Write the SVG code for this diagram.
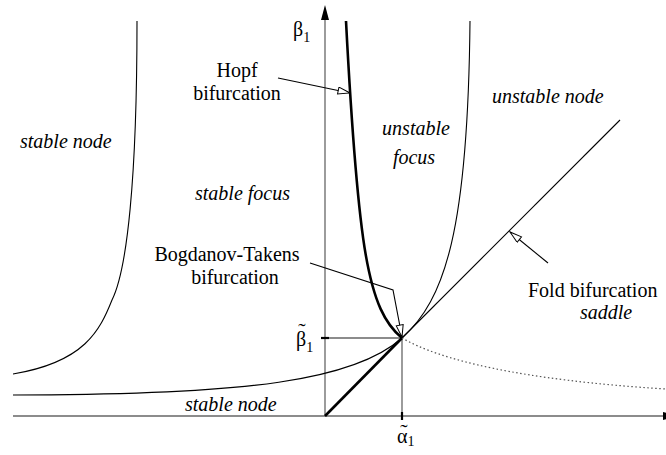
<svg xmlns="http://www.w3.org/2000/svg" width="666" height="455" viewBox="0 0 666 455">
<style>
.ax{stroke:#666;stroke-width:1.3;fill:none}
.tick{stroke:#000;stroke-width:2.2;fill:none}
.thin{stroke:#000;stroke-width:1.1;fill:none}
.thick{stroke:#000;stroke-width:2.6;fill:none}
.dot{stroke:#555;stroke-width:1.2;stroke-dasharray:1.5 2.5;fill:none}
.lead{stroke:#000;stroke-width:1.1;fill:none;marker-end:url(#open)}
text{font-family:"Liberation Serif","Times New Roman",serif;font-size:20px;fill:#000}
.it{font-style:italic}
.c{text-anchor:middle}
.sub{font-size:14px}
.tl{font-size:22px;text-anchor:middle}
</style>
<defs>
<marker id="open" markerUnits="userSpaceOnUse" markerWidth="14" markerHeight="9" refX="13" refY="4" orient="auto">
<path d="M1,0.5 L13,4 L1,7.5 Z" fill="#fff" stroke="#000" stroke-width="1"/>
</marker>
</defs>
<rect width="666" height="455" fill="#fff"/>
<g id="axes">
<line class="ax" x1="325" y1="416" x2="325" y2="20"/>
<polygon points="321,20 329,20 325,5" fill="#000"/>
<line class="ax" x1="13" y1="416" x2="663" y2="416"/>
<polygon points="663,412 663,420 678,416" fill="#000"/>
<line class="ax" x1="402" y1="338" x2="402" y2="416"/>
<line class="ax" x1="325" y1="338" x2="402" y2="338"/>
<line class="tick" x1="402" y1="412" x2="402" y2="420"/>
<line class="tick" x1="321" y1="338" x2="329" y2="338"/>
</g>
<g id="curves">
<path id="left-curve" class="thin" d="M137,21 C137,180 127,270 112,300 C100,330 85,362 13,374"/>
<path id="right-curve" class="thin" d="M470,21 C468,230 445,300 402,338 C355,380 250,395 13,395"/>
<path id="hopf" class="thick" d="M346,21 C358,250 368,310 402,338"/>
<line id="fold-thick" class="thick" x1="325" y1="416" x2="402" y2="338"/>
<line id="fold" class="thin" x1="402" y1="338" x2="620" y2="120"/>
<path id="dotted" class="dot" d="M402,338 C440,360 520,380 666,389"/>
</g>
<g id="connectors">
<path class="lead" d="M278,78 L350,93"/>
<path class="lead" d="M310,263 L393,290 L402,337"/>
<path class="lead" d="M548,263 L510,232"/>
</g>
<g id="label-beta1"><text x="293" y="36">β<tspan class="sub" dy="6">1</tspan></text></g>
<g id="label-betatilde"><text x="296" y="346">β<tspan class="sub" dy="6">1</tspan></text><text class="tl" x="302" y="338">˜</text></g>
<g id="label-alphatilde"><text x="397" y="443">α<tspan class="sub" dy="3">1</tspan></text><text class="tl" x="404" y="439">˜</text></g>
<g id="label-hopf"><text class="c" x="237" y="77">Hopf</text><text class="c" x="237" y="100">bifurcation</text></g>
<g id="label-bt"><text class="c" x="227" y="261">Bogdanov-Takens</text><text class="c" x="235" y="284">bifurcation</text></g>
<g id="label-fold"><text x="528" y="297">Fold bifurcation</text></g>
<g id="region-stable-node-top"><text class="it" x="20" y="148">stable node</text></g>
<g id="region-stable-focus"><text class="it" x="195" y="200">stable focus</text></g>
<g id="region-unstable-focus"><text class="it c" x="416" y="135">unstable</text><text class="it c" x="414" y="164">focus</text></g>
<g id="region-unstable-node"><text class="it" x="492" y="103">unstable node</text></g>
<g id="region-saddle"><text class="it" x="580" y="319">saddle</text></g>
<g id="region-stable-node-bottom"><text class="it" x="185" y="411">stable node</text></g>
</svg>
